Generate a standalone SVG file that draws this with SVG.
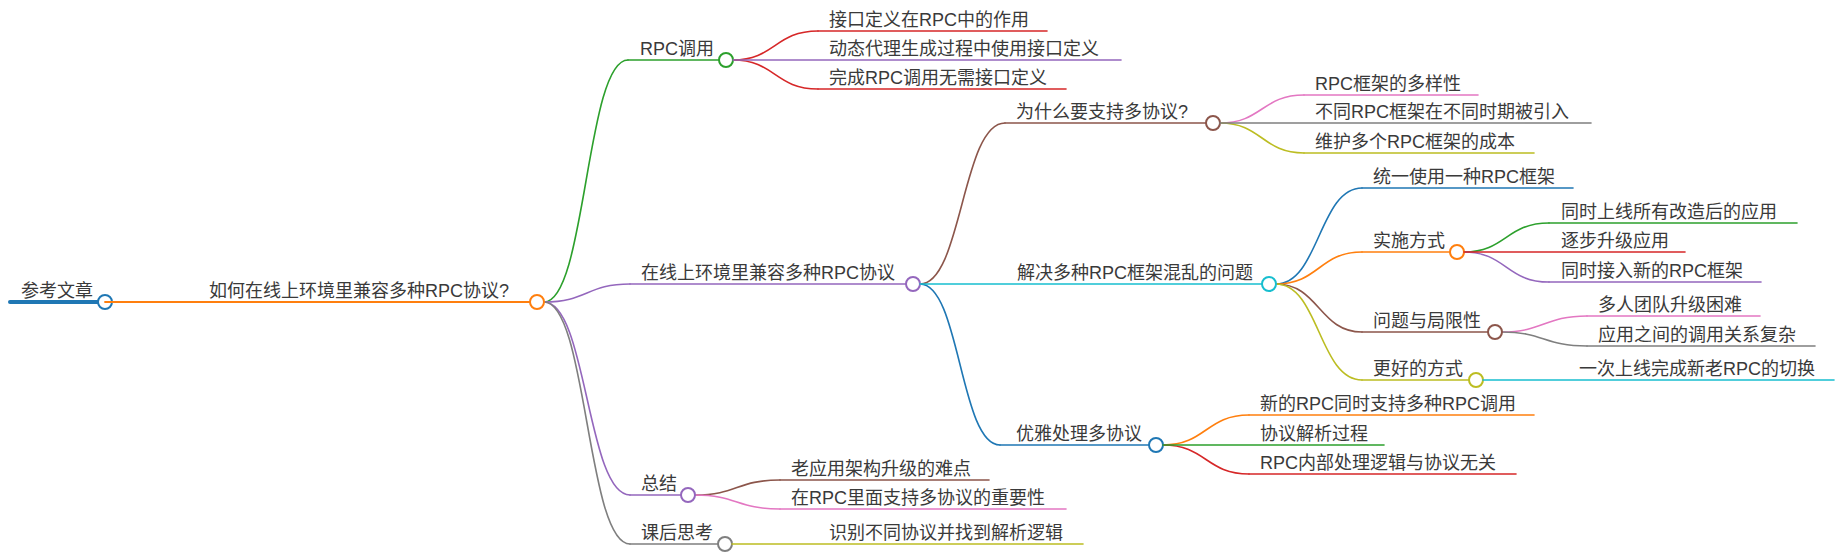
<svg xmlns="http://www.w3.org/2000/svg" width="1842" height="554" viewBox="0 0 1842 554">
<style>
text{font-family:"Liberation Sans","Noto Sans CJK SC",sans-serif;font-size:18px;fill:#3a3a3a}
path,line{fill:none;stroke-linecap:round}
circle{fill:#fff;stroke-width:2}
.blue{stroke:#1f77b4}.orange{stroke:#ff7f0e}.green{stroke:#2ca02c}.red{stroke:#d62728}.purple{stroke:#9467bd}.brown{stroke:#8c564b}.pink{stroke:#e377c2}.gray{stroke:#7f7f7f}.olive{stroke:#bcbd22}.cyan{stroke:#17becf}
.w1,.w2{stroke-width:1.6}
</style>
<rect width="1842" height="554" fill="#fff"/>
<g id="connectors">
<path class="green w1" d="M544 302 C586 302 586 60 628 60"/>
<path class="purple w1" d="M544 302 C587 302 587 284 630 284"/>
<path class="purple w1" d="M544 302 C587 302 587 495 630 495"/>
<path class="gray w1" d="M544 302 C587 302 587 544 630 544"/>
<path class="red w2" d="M733 60 C775 60 775 31 818 31"/>
<path class="red w2" d="M733 60 C775 60 775 89 818 89"/>
<path class="brown w2" d="M920 284 C962 284 962 123 1005 123"/>
<path class="blue w2" d="M920 284 C960 284 960 445 1000 445"/>
<path class="pink w2" d="M1220 123 C1262 123 1262 95 1304 95"/>
<path class="olive w2" d="M1220 123 C1262 123 1262 153 1304 153"/>
<path class="blue w2" d="M1276 284 C1319 284 1319 188 1362 188"/>
<path class="orange w2" d="M1276 284 C1319 284 1319 252 1362 252"/>
<path class="brown w2" d="M1276 284 C1319 284 1319 332 1362 332"/>
<path class="olive w2" d="M1276 284 C1319 284 1319 380 1362 380"/>
<path class="green w2" d="M1464 252 C1506 252 1506 223 1549 223"/>
<path class="purple w2" d="M1464 252 C1506 252 1506 282 1549 282"/>
<path class="pink w2" d="M1502 332 C1544 332 1544 316 1587 316"/>
<path class="gray w2" d="M1502 332 C1544 332 1544 346 1587 346"/>
<path class="orange w2" d="M1163 445 C1206 445 1206 415 1249 415"/>
<path class="red w2" d="M1163 445 C1206 445 1206 474 1249 474"/>
<path class="brown w2" d="M695 495 C737 495 737 480 780 480"/>
<path class="pink w2" d="M695 495 C737 495 737 509 780 509"/>
</g>
<g id="n-root"><line class="blue" stroke-width="4" x1="10" y1="302" x2="105" y2="302"/><circle class="blue" cx="105" cy="302" r="7"/><text x="21" y="297">参考文章</text></g>
<g id="n-main"><line class="orange" stroke-width="1.8" x1="105" y1="302" x2="537" y2="302"/><circle class="orange" cx="537" cy="302" r="7"/><text x="209" y="297">如何在线上环境里兼容多种RPC协议?</text></g>
<g id="n-rpc"><line class="green w1" x1="628" y1="60" x2="726" y2="60"/><circle class="green" cx="726" cy="60" r="7"/><text x="640" y="55">RPC调用</text></g>
<g id="n-rpc1"><line class="red w2" x1="818" y1="31" x2="1047" y2="31"/><text x="829" y="26">接口定义在RPC中的作用</text></g>
<g id="n-rpc2"><line class="purple w2" x1="733" y1="60" x2="1121" y2="60"/><text x="829" y="55">动态代理生成过程中使用接口定义</text></g>
<g id="n-rpc3"><line class="red w2" x1="818" y1="89" x2="1066" y2="89"/><text x="829" y="84">完成RPC调用无需接口定义</text></g>
<g id="n-online"><line class="purple w1" x1="630" y1="284" x2="913" y2="284"/><circle class="purple" cx="913" cy="284" r="7"/><text x="641" y="279">在线上环境里兼容多种RPC协议</text></g>
<g id="n-why"><line class="brown w2" x1="1005" y1="123" x2="1213" y2="123"/><circle class="brown" cx="1213" cy="123" r="7"/><text x="1016" y="118">为什么要支持多协议?</text></g>
<g id="n-why1"><line class="pink w2" x1="1304" y1="95" x2="1478" y2="95"/><text x="1315" y="90">RPC框架的多样性</text></g>
<g id="n-why2"><line class="gray w2" x1="1220" y1="123" x2="1591" y2="123"/><text x="1315" y="118">不同RPC框架在不同时期被引入</text></g>
<g id="n-why3"><line class="olive w2" x1="1304" y1="153" x2="1534" y2="153"/><text x="1315" y="148">维护多个RPC框架的成本</text></g>
<g id="n-solve"><line class="cyan w2" x1="920" y1="284" x2="1269" y2="284"/><circle class="cyan" cx="1269" cy="284" r="7"/><text x="1017" y="279">解决多种RPC框架混乱的问题</text></g>
<g id="n-solve1"><line class="blue w2" x1="1362" y1="188" x2="1573" y2="188"/><text x="1373" y="183">统一使用一种RPC框架</text></g>
<g id="n-impl"><line class="orange w2" x1="1362" y1="252" x2="1457" y2="252"/><circle class="orange" cx="1457" cy="252" r="7"/><text x="1373" y="247">实施方式</text></g>
<g id="n-impl1"><line class="green w2" x1="1549" y1="223" x2="1797" y2="223"/><text x="1561" y="218">同时上线所有改造后的应用</text></g>
<g id="n-impl2"><line class="red w2" x1="1464" y1="252" x2="1685" y2="252"/><text x="1561" y="247">逐步升级应用</text></g>
<g id="n-impl3"><line class="purple w2" x1="1549" y1="282" x2="1761" y2="282"/><text x="1561" y="277">同时接入新的RPC框架</text></g>
<g id="n-prob"><line class="brown w2" x1="1362" y1="332" x2="1495" y2="332"/><circle class="brown" cx="1495" cy="332" r="7"/><text x="1373" y="327">问题与局限性</text></g>
<g id="n-prob1"><line class="pink w2" x1="1587" y1="316" x2="1760" y2="316"/><text x="1598" y="311">多人团队升级困难</text></g>
<g id="n-prob2"><line class="gray w2" x1="1587" y1="346" x2="1815" y2="346"/><text x="1598" y="341">应用之间的调用关系复杂</text></g>
<g id="n-better"><line class="olive w2" x1="1362" y1="380" x2="1476" y2="380"/><circle class="olive" cx="1476" cy="380" r="7"/><text x="1373" y="375">更好的方式</text></g>
<g id="n-better1"><line class="cyan w2" x1="1483" y1="380" x2="1834" y2="380"/><text x="1579" y="375">一次上线完成新老RPC的切换</text></g>
<g id="n-elegant"><line class="blue w2" x1="1000" y1="445" x2="1156" y2="445"/><circle class="blue" cx="1156" cy="445" r="7"/><text x="1016" y="440">优雅处理多协议</text></g>
<g id="n-el1"><line class="orange w2" x1="1249" y1="415" x2="1534" y2="415"/><text x="1260" y="410">新的RPC同时支持多种RPC调用</text></g>
<g id="n-el2"><line class="green w2" x1="1163" y1="445" x2="1384" y2="445"/><text x="1260" y="440">协议解析过程</text></g>
<g id="n-el3"><line class="red w2" x1="1249" y1="474" x2="1516" y2="474"/><text x="1260" y="469">RPC内部处理逻辑与协议无关</text></g>
<g id="n-sum"><line class="purple w1" x1="630" y1="495" x2="688" y2="495"/><circle class="purple" cx="688" cy="495" r="7"/><text x="641" y="490">总结</text></g>
<g id="n-sum1"><line class="brown w2" x1="780" y1="480" x2="989" y2="480"/><text x="791" y="475">老应用架构升级的难点</text></g>
<g id="n-sum2"><line class="pink w2" x1="780" y1="509" x2="1066" y2="509"/><text x="791" y="504">在RPC里面支持多协议的重要性</text></g>
<g id="n-think"><line class="gray w1" x1="630" y1="544" x2="725" y2="544"/><circle class="gray" cx="725" cy="544" r="7"/><text x="641" y="539">课后思考</text></g>
<g id="n-think1"><line class="olive w2" x1="732" y1="544" x2="1083" y2="544"/><text x="829" y="539">识别不同协议并找到解析逻辑</text></g>
</svg>
